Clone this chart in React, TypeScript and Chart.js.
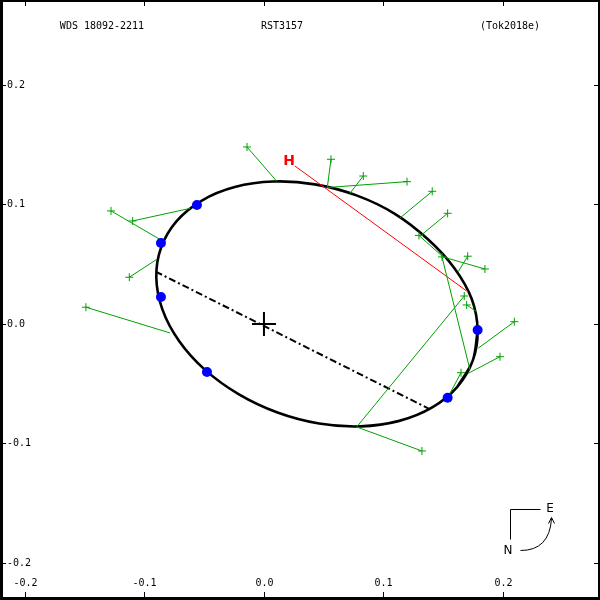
import React, { useEffect, useRef } from "react";
import { Chart, registerables } from "chart.js";

Chart.register(...registerables);

// ---- texts ----
const titleLeft = "WDS 18092-2211";
const titleMid = "RST3157";
const titleRight = "(Tok2018e)";
const tickValues = [-0.2, -0.1, 0.0, 0.1, 0.2];
const tickLabels = ["-0.2", "-0.1", "0.0", "0.1", "0.2"];

// ---- axis ranges ----
const xRange = [-0.2209, 0.2812];
const yRange = [-0.231, 0.2711];

// ---- orbit (read along the drawn ellipse) ----
const orbitX = [0.1747, 0.1618, 0.1408, 0.1132, 0.0809, 0.0461, 0.0113, -0.0213, -0.0495, -0.0712, -0.0851, -0.0901,
  -0.086, -0.0731, -0.052, -0.0245, 0.0078, 0.0426, 0.0774, 0.1095, 0.1372, 0.1592, 0.1738, 0.1788];
const orbitY = [-0.0307, -0.0526, -0.0698, -0.0811, -0.0857, -0.0833, -0.0741, -0.0587, -0.0382, -0.014, 0.0124, 0.0391,
  0.0642, 0.0861, 0.1033, 0.1146, 0.1192, 0.1168, 0.1076, 0.0922, 0.0709, 0.0469, 0.0211, -0.0056];

// ---- visual observations (green) and their predicted positions ----
const obsX = [-0.0142, -0.128, -0.1099, -0.1127, -0.149, 0.0561, 0.0831, 0.1197, 0.1408, 0.1537,
  0.1297, 0.1849, 0.1705, 0.149, 0.1676, 0.1696, 0.2095, 0.1975, 0.1649, 0.1322];
const obsY = [0.1481, 0.0946, 0.0862, 0.0391, 0.014, 0.1378, 0.1238, 0.1191, 0.111, 0.0926,
  0.0741, 0.046, 0.0567, 0.0561, 0.0234, 0.0159, 0.0019, -0.0274, -0.0408, -0.1063];
const predX = [0.0109, -0.0862, -0.0619, -0.0898, -0.0787, 0.053, 0.072, 0.053, 0.1138, 0.1318,
  0.1498, 0.1498, 0.1626, 0.1724, 0.0776, 0.178, 0.1793, 0.171, 0.1542, 0.0776];
const predY = [0.1192, 0.0703, 0.0967, 0.054, -0.0075, 0.1142, 0.1094, 0.1142, 0.0887, 0.0745,
  0.0561, 0.0561, 0.0438, -0.0385, -0.0862, 0.0103, -0.0203, -0.0413, -0.0608, -0.0862];

// ---- interferometric observations (blue) ----
const blueX = [-0.0561, -0.0862, -0.0862, -0.0477, 0.1537, 0.1788];
const blueY = [0.0996, 0.0678, 0.0226, -0.0402, -0.0617, -0.005];

// ---- Hipparcos point (red) ----
const hipX = [0.0259, 0.1707];
const hipY = [0.1322, 0.0268];
const hipLabel = "H";
const hipLabelX = 0.0211;
const hipLabelY = 0.1358;

// ---- line of nodes ----
const nodeX = [-0.0906, 0.1389];
const nodeY = [0.0438, -0.0714];

// ---- primary ----
const primaryX = [0];
const primaryY = [0];

const GREEN = "#00a000";
const MONO = '10px "DejaVu Sans Mono", monospace';

const framePlugin = {
  id: "frame",
  afterDraw(chart: any) {
    const ctx = chart.ctx;
    const { left, top, right, bottom } = chart.chartArea;
    const xs = chart.scales.x;
    const ys = chart.scales.y;
    ctx.save();
    ctx.fillStyle = "#000";
    ctx.strokeStyle = "#000";
    // frame
    ctx.fillRect(left, top, 3, bottom - top);
    ctx.fillRect(left, top, right - left, 2);
    ctx.fillRect(right - 2, top, 2, bottom - top);
    ctx.fillRect(left, bottom - 3, right - left, 3);
    // ticks
    ctx.lineWidth = 1;
    ctx.font = MONO;
    tickValues.forEach((v, i) => {
      const px = Math.round(xs.getPixelForValue(v)) + 0.5;
      ctx.beginPath();
      ctx.moveTo(px, top);
      ctx.lineTo(px, top + 6);
      ctx.moveTo(px, bottom);
      ctx.lineTo(px, bottom - 8);
      ctx.stroke();
      const py = Math.round(ys.getPixelForValue(v)) + 0.5;
      ctx.beginPath();
      ctx.moveTo(left, py);
      ctx.lineTo(left + 6, py);
      ctx.moveTo(right, py);
      ctx.lineTo(right - 6, py);
      ctx.stroke();
      ctx.textAlign = "center";
      ctx.textBaseline = "middle";
      ctx.fillText(tickLabels[i], px, bottom - 17);
      ctx.textAlign = "left";
      ctx.fillText(tickLabels[i], left + 7, py);
    });
    // titles
    ctx.textAlign = "center";
    ctx.textBaseline = "middle";
    ctx.fillText(titleLeft, left + 102, top + 26);
    ctx.fillText(titleMid, left + 282, top + 26);
    ctx.fillText(titleRight, left + 510, top + 26);
    // Hipparcos label
    ctx.fillStyle = "#ff0000";
    ctx.font = 'bold 14px "DejaVu Sans", sans-serif';
    ctx.fillText(hipLabel, xs.getPixelForValue(hipLabelX), ys.getPixelForValue(hipLabelY));
    // compass
    ctx.fillStyle = "#000";
    ctx.strokeStyle = "#000";
    ctx.lineWidth = 1;
    const cx = right - 89.5;
    const cy = bottom - 90.5;
    ctx.beginPath();
    ctx.moveTo(cx, cy);
    ctx.lineTo(cx + 30, cy);
    ctx.moveTo(cx, cy);
    ctx.lineTo(cx, cy + 30);
    ctx.stroke();
    ctx.font = '12px "DejaVu Sans", sans-serif';
    ctx.fillText("E", cx + 39.5, cy - 1);
    ctx.fillText("N", cx - 2.5, cy + 41);
    ctx.beginPath();
    ctx.moveTo(cx + 10, cy + 41);
    ctx.quadraticCurveTo(cx + 39, cy + 41, cx + 41, cy + 9);
    ctx.stroke();
    ctx.beginPath();
    ctx.moveTo(cx + 38, cy + 14);
    ctx.lineTo(cx + 41, cy + 8);
    ctx.lineTo(cx + 44, cy + 14);
    ctx.stroke();
    ctx.restore();
  },
};

export default function App() {
  const ref = useRef<HTMLCanvasElement | null>(null);
  useEffect(() => {
    if (!ref.current) return;
    const orbitPts = orbitX.map((x, i) => ({ x, y: orbitY[i] }));
    const n = orbitPts.length;
    const orbitData = [orbitPts[n - 1], ...orbitPts, orbitPts[0], orbitPts[1]];
    const resid: any[] = [];
    obsX.forEach((x, i) => {
      resid.push({ x, y: obsY[i] });
      resid.push({ x: predX[i], y: predY[i] });
      resid.push({ x: NaN, y: NaN });
    });
    const chart = new Chart(ref.current, {
      type: "scatter",
      data: {
        datasets: [
          {
            data: blueX.map((x, i) => ({ x, y: blueY[i] })),
            pointStyle: "circle",
            pointRadius: 5,
            backgroundColor: "#0000ff",
            borderColor: "#0000ff",
            borderWidth: 0,
            showLine: false,
          } as any,
          {
            data: obsX.map((x, i) => ({ x, y: obsY[i] })),
            pointStyle: "cross",
            pointRadius: 4,
            borderColor: GREEN,
            borderWidth: 1,
            showLine: false,
          },
          {
            data: resid,
            showLine: true,
            spanGaps: false,
            borderColor: GREEN,
            borderWidth: 1,
            pointRadius: 0,
          },
          {
            data: hipX.map((x, i) => ({ x, y: hipY[i] })),
            showLine: true,
            borderColor: "#ff0000",
            borderWidth: 1,
            pointRadius: 0,
          },
          {
            data: nodeX.map((x, i) => ({ x, y: nodeY[i] })),
            showLine: true,
            borderColor: "#000",
            borderWidth: 2,
            borderDash: [7, 3, 2, 3],
            pointRadius: 0,
          },
          {
            data: orbitData,
            showLine: true,
            borderColor: "#000",
            borderWidth: 2.6,
            tension: 0.34,
            pointRadius: 0,
          },
          {
            data: primaryX.map((x, i) => ({ x, y: primaryY[i] })),
            pointStyle: "cross",
            pointRadius: 12,
            borderColor: "#000",
            borderWidth: 2,
            showLine: false,
          },
        ],
      },
      options: {
        animation: false,
        responsive: false,
        events: [],
        layout: { padding: 0, autoPadding: false },
        plugins: { legend: { display: false }, tooltip: { enabled: false } },
        scales: {
          x: { type: "linear", min: xRange[0], max: xRange[1], display: false },
          y: { type: "linear", min: yRange[0], max: yRange[1], display: false },
        },
      },
      plugins: [framePlugin],
    });
    return () => chart.destroy();
  }, []);
  return (
    <div style={{ position: "fixed", left: 0, top: 0, width: 600, height: 600, background: "#fff" }}>
      <canvas ref={ref} width={600} height={600} style={{ display: "block", width: 600, height: 600 }} />
    </div>
  );
}
